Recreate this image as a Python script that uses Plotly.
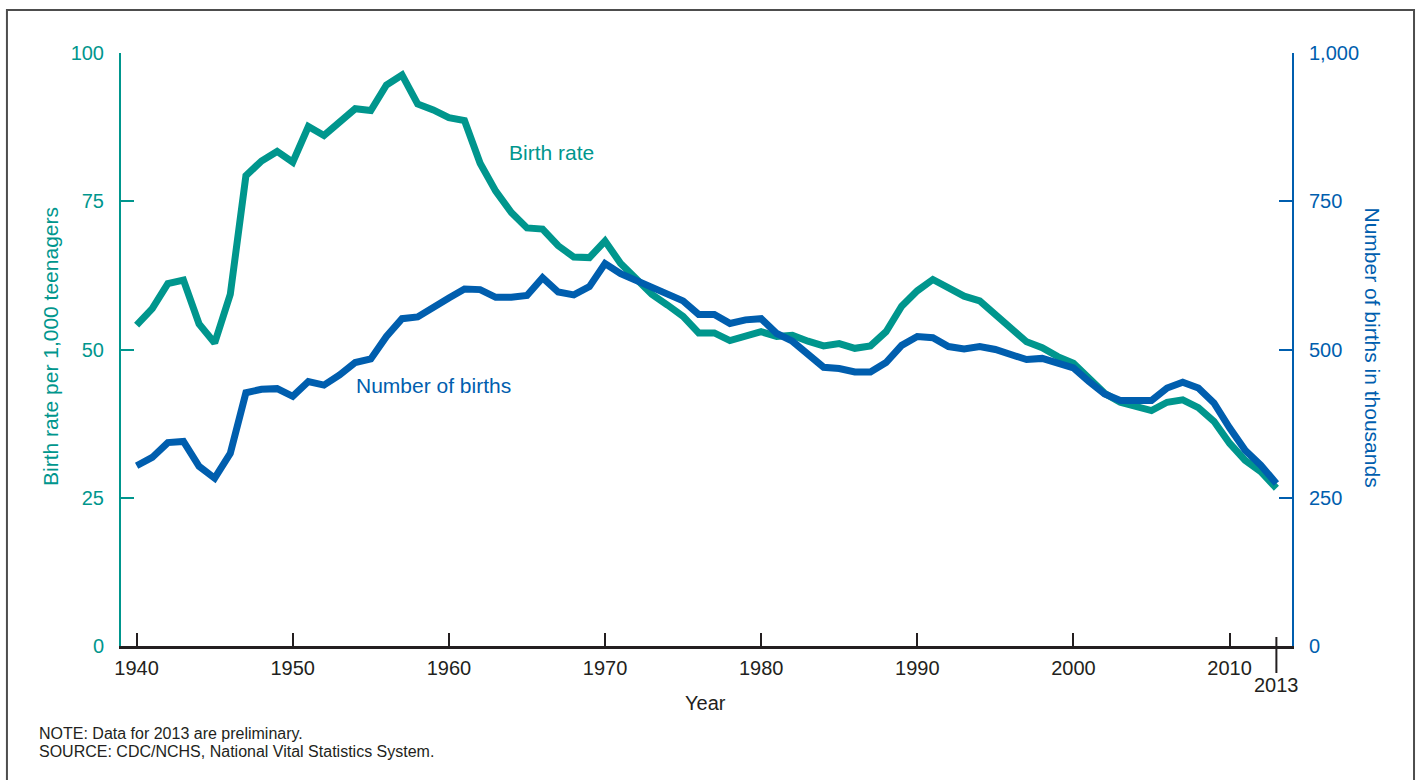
import plotly.graph_objects as go

years = list(range(1940, 2014))

birth_rate = [54.1, 56.9, 61.1, 61.7, 54.3, 51.1, 59.3, 79.3, 81.8, 83.4,
              81.6, 87.6, 86.1, 88.2, 90.6, 90.3, 94.6, 96.3, 91.4, 90.4,
              89.1, 88.6, 81.4, 76.7, 73.1, 70.5, 70.3, 67.5, 65.6, 65.5,
              68.3, 64.5, 61.7, 59.3, 57.5, 55.6, 52.8, 52.8, 51.5, 52.3,
              53.0, 52.2, 52.4, 51.4, 50.6, 51.0, 50.2, 50.6, 53.0, 57.3,
              59.9, 61.8, 60.3, 59.0, 58.2, 56.0, 53.5, 51.3, 50.3, 48.8,
              47.7, 45.0, 42.6, 41.1, 40.5, 39.7, 41.1, 41.5, 40.2, 37.9,
              34.2, 31.3, 29.4, 26.6]

births_thousands = [304, 318, 343, 345, 303, 283, 325, 427, 433, 434,
                    421, 446, 440, 457, 478, 484, 522, 552, 555, 572,
                    587, 602, 601, 588, 588, 591, 621, 597, 592, 606,
                    645, 628, 617, 604, 595, 582, 559, 559, 544, 550,
                    552, 527, 514, 491, 470, 468, 462, 462, 478, 507,
                    522, 520, 505, 501, 505, 500, 491, 483, 485, 477,
                    469, 446, 425, 414, 415, 414, 435, 445, 435, 410,
                    368, 330, 305, 274]

x_tick_vals = [1940, 1950, 1960, 1970, 1980, 1990, 2000, 2010]
left_tick_vals = [0, 25, 50, 75, 100]
right_tick_vals = [0, 250, 500, 750, 1000]
right_tick_text = ["0", "250", "500", "750", "1,000"]

TEAL = "#00968d"
BLUE = "#005eae"
DARK = "#231f20"
FONT = "Arial, Liberation Sans, Helvetica, sans-serif"

fig = go.Figure()
fig.add_trace(go.Scatter(x=years, y=birth_rate, mode="lines",
                         line=dict(color=TEAL, width=7), yaxis="y",
                         showlegend=False, hoverinfo="x+y"))
fig.add_trace(go.Scatter(x=years, y=births_thousands, mode="lines",
                         line=dict(color=BLUE, width=7), yaxis="y2",
                         showlegend=False, hoverinfo="x+y"))

fig.update_layout(
    width=1421, height=780,
    margin=dict(l=121, r=129, t=53, b=134, pad=0),
    paper_bgcolor="white", plot_bgcolor="white",
    font=dict(family=FONT, size=20, color=DARK),
    xaxis=dict(range=[1939, 2014], tickvals=x_tick_vals,
               ticks="inside", ticklen=13, tickwidth=2, tickcolor=DARK,
               showline=True, linecolor=DARK, linewidth=2.5,
               showgrid=False, zeroline=False,
               tickfont=dict(size=20, color=DARK), ticklabelstandoff=2),
    yaxis=dict(range=[0, 100], tickvals=left_tick_vals,
               ticks="inside", ticklen=13, tickwidth=2, tickcolor=TEAL,
               showline=True, linecolor=TEAL, linewidth=2,
               showgrid=False, zeroline=False,
               tickfont=dict(size=20, color=TEAL), ticklabelstandoff=11),
    yaxis2=dict(range=[0, 1000], tickvals=right_tick_vals, ticktext=right_tick_text,
                overlaying="y", side="right",
                ticks="inside", ticklen=13, tickwidth=2, tickcolor=BLUE,
                showline=True, linecolor=BLUE, linewidth=2,
                showgrid=False, zeroline=False,
                tickfont=dict(size=20, color=BLUE), ticklabelstandoff=11),
)

# 2013 tick (extends through the axis) and its label
fig.add_shape(type="line", xref="x", yref="paper", x0=2013, x1=2013,
              y0=0.0152, y1=-0.0455, line=dict(color=DARK, width=2))
fig.add_annotation(x=2013, y=(646 - 685) / 593, xref="x", yref="paper", text="2013",
                   showarrow=False, xanchor="center", yanchor="middle",
                   font=dict(size=20, color=DARK))

# Frame
fig.add_shape(type="rect", xref="paper", yref="paper",
              x0=-0.0974, x1=1.1042, y0=-0.25, y1=1.0725,
              line=dict(color="#4d4d4d", width=2), layer="below")

# Series labels
fig.add_annotation(x=1966.6, y=83.3, xref="x", yref="y", text="Birth rate",
                   showarrow=False, xanchor="center", yanchor="middle",
                   font=dict(size=21, color=TEAL))
fig.add_annotation(x=1959.0, y=44.0, xref="x", yref="y", text="Number of births",
                   showarrow=False, xanchor="center", yanchor="middle",
                   font=dict(size=21, color=BLUE))

# Axis titles
fig.add_annotation(x=(50 - 121) / 1171, y=(646 - 347) / 593, xref="paper", yref="paper",
                   text="Birth rate per 1,000 teenagers", textangle=-90,
                   xanchor="center", yanchor="middle",
                   showarrow=False, font=dict(size=21, color=TEAL))
fig.add_annotation(x=(1372 - 121) / 1171, y=(646 - 347.5) / 593, xref="paper", yref="paper",
                   text="Number of births in thousands", textangle=90,
                   xanchor="center", yanchor="middle",
                   showarrow=False, font=dict(size=21, color=BLUE))
fig.add_annotation(x=(705 - 121) / 1171, y=(646 - 703) / 593, xref="paper", yref="paper",
                   text="Year", showarrow=False, xanchor="center", yanchor="middle",
                   font=dict(size=20, color=DARK))

# Notes
fig.add_annotation(x=(37 - 121) / 1171, y=(646 - 733) / 593, xref="paper", yref="paper",
                   text="NOTE: Data for 2013 are preliminary.", xanchor="left", yanchor="middle",
                   showarrow=False, font=dict(size=16, color=DARK))
fig.add_annotation(x=(37 - 121) / 1171, y=(646 - 751) / 593, xref="paper", yref="paper",
                   text="SOURCE: CDC/NCHS, National Vital Statistics System.", xanchor="left",
                   yanchor="middle", showarrow=False, font=dict(size=16, color=DARK))

fig.write_html("out.html",
               config={"displayModeBar": False},
               post_script="document.body.style.margin='0';document.body.style.overflow='hidden';")
